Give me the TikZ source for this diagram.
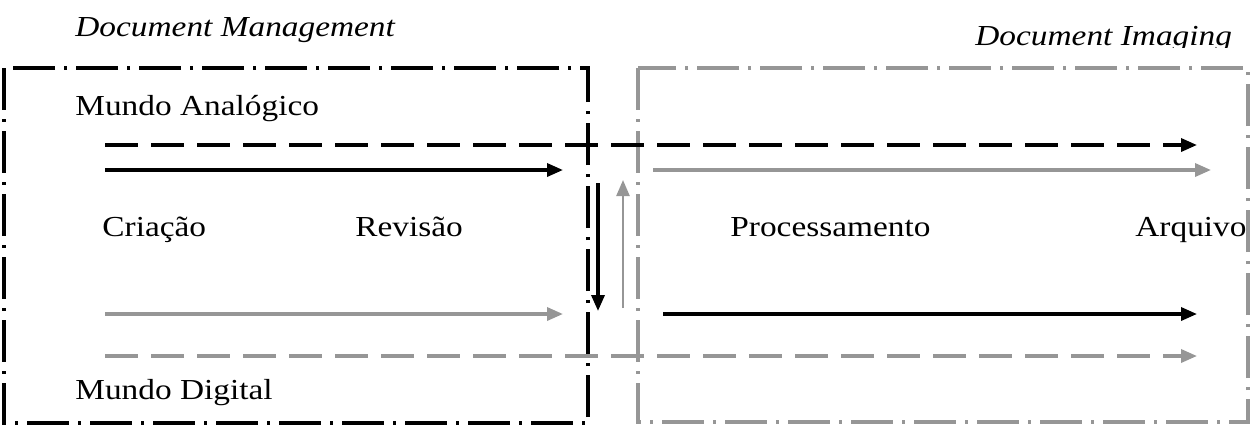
\documentclass[tikz,border=0pt]{standalone}
\usepackage{fontspec}
\setmainfont{Liberation Serif}
\usepackage{graphicx}
\usetikzlibrary{arrows.meta}
\definecolor{lgray}{RGB}{150,150,150}
\newcommand{\sx}[1]{\scalebox{1.15}[1]{#1}}
\begin{document}
\begin{tikzpicture}[x=0.5pt,y=-0.5pt,
  lbl/.style={font=\fontsize{14.5}{17}\selectfont, inner sep=0pt, anchor=base west},
  ttl/.style={lbl, font=\fontsize{14.5}{17}\selectfont\itshape},
  frame/.style={line width=1.8pt, dash pattern=on 21pt off 4.5pt on 1.5pt off 4.5pt},
  arr/.style={line width=1.7pt, -{Triangle[length=8pt,width=6.5pt]}},
  darr/.style={arr, dash pattern=on 16.5pt off 6.5pt},
]
\useasboundingbox (0,0) rectangle (1258,441);
% frames
\draw[frame, black] (4,68) rectangle (588,423);
\draw[frame, lgray] (638,68) rectangle (1248,422);
% titles
\node[ttl] (dm) at (75,36) {\sx{Document Management}};
\begin{scope}
\clip (900,0) rectangle (1258,47);
\node[ttl] (di) at (975,45) {\sx{Document Imaging}};
\end{scope}
% labels
\node[lbl] (ma) at (75,115) {\sx{Mundo Analógico}};
\node[lbl] (cr) at (102,236) {\sx{Criação}};
\node[lbl] (rv) at (355,236) {\sx{Revisão}};
\node[lbl] (pr) at (730,236) {\sx{Processamento}};
\node[lbl] (ar) at (1135,236) {\sx{Arquivo}};
\node[lbl] (md) at (75,399) {\sx{Mundo Digital}};
% arrow end points
\coordinate (a1s) at (105,145); \coordinate (a1e) at (1197,145);
\coordinate (a2s) at (105,170); \coordinate (a2e) at (563,170);
\coordinate (a3s) at (653,170); \coordinate (a3e) at (1211,170);
\coordinate (v1s) at (598,183); \coordinate (v1e) at (598,311);
\coordinate (v2s) at (623,308); \coordinate (v2e) at (623,180);
\coordinate (a4s) at (105,314); \coordinate (a4e) at (563,314);
\coordinate (a5s) at (663,314); \coordinate (a5e) at (1197,314);
\coordinate (a6s) at (105,356); \coordinate (a6e) at (1197,356);
% arrows
\draw[darr, black] (a1s) -- (a1e);
\draw[arr, black] (a2s) -- (a2e);
\draw[arr, lgray] (a3s) -- (a3e);
\draw[arr, black] (v1s) -- (v1e);
\draw[arr, lgray, line width=1.2pt] (v2s) -- (v2e);
\draw[arr, lgray] (a4s) -- (a4e);
\draw[arr, black] (a5s) -- (a5e);
\draw[darr, lgray] (a6s) -- (a6e);
\end{tikzpicture}
\end{document}
